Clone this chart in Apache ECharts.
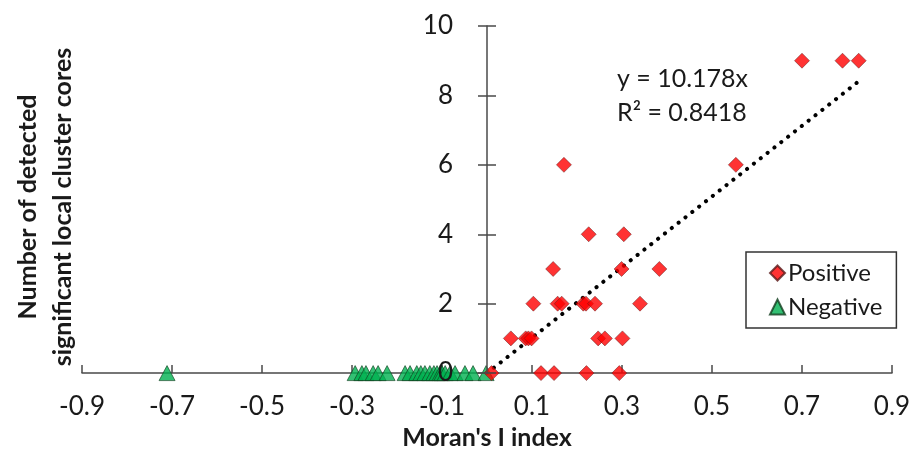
<!DOCTYPE html>
<html>
<head>
<meta charset="utf-8">
<script src="https://cdn.jsdelivr.net/npm/echarts@6/dist/echarts.min.js"></script>
<style>
  html, body { margin: 0; padding: 0; background: #fff; }
  #chart { width: 914px; height: 455px; }
</style>
</head>
<body>
<div id="chart"></div>
<script>
// Moran's I index (x) vs number of detected local cluster cores (y)
const positiveX = [0.700, 0.790, 0.826, 0.171, 0.553, 0.226, 0.304, 0.147, 0.299, 0.383,
  0.103, 0.157, 0.166, 0.214, 0.220, 0.240, 0.340,
  0.053, 0.086, 0.092, 0.099, 0.247, 0.262, 0.301,
  0.010, 0.120, 0.149, 0.221, 0.294];
const positiveY = [9, 9, 9, 6, 6, 4, 4, 3, 3, 3,
  2, 2, 2, 2, 2, 2, 2,
  1, 1, 1, 1, 1, 1, 1,
  0, 0, 0, 0, 0];
const negativeX = [-0.711, -0.293, -0.278, -0.269, -0.253, -0.242, -0.222, -0.182, -0.171,
  -0.156, -0.147, -0.138, -0.127, -0.118, -0.111, -0.104, -0.100, -0.093, -0.082,
  -0.071, -0.049, -0.031, -0.002];
const negativeY = negativeX.map(() => 0);

// Linear trend through the origin fitted to the positive group
const trendSlope = 10.178;
const trendR2 = 0.8418;
const xTicks = { min: -0.9, max: 0.9, interval: 0.2 };
const yTicks = { min: 0, max: 10, interval: 2 };

const FONT = 'Lato, "Open Sans", sans-serif';
const TEXT = '#1a1a1a';
const AXIS = '#4a4a4a';

const GRID = { left: 82, right: 22, top: 26, bottom: 79 };
const PLOT_W = 914 - GRID.left - GRID.right;

const pairs = (xs, ys) => xs.map((x, i) => [x, ys[i]]);
const trendEnd = Math.max(...positiveX);
const trendData = [[0, 0], [trendEnd, trendSlope * trendEnd]];

// The vertical axis sits at x = 0; shift it in from the left grid edge.
const yAxisShift = -PLOT_W * (0 - xTicks.min) / (xTicks.max - xTicks.min);

const chart = echarts.init(document.getElementById('chart'), null, { renderer: 'canvas' });

const yAxisBase = {
  type: 'value',
  position: 'left',
  offset: yAxisShift,
  min: yTicks.min, max: yTicks.max, interval: yTicks.interval,
  splitLine: { show: false },
  z: 3
};

chart.setOption({
  animation: false,
  backgroundColor: '#fff',
  grid: Object.assign({ containLabel: false }, GRID),
  xAxis: {
    type: 'value',
    min: xTicks.min, max: xTicks.max, interval: xTicks.interval,
    splitLine: { show: false },
    axisLine: { onZero: false, lineStyle: { color: AXIS, width: 1.5 } },
    axisTick: { inside: true, length: 8, lineStyle: { color: AXIS, width: 1.5 } },
    axisLabel: {
      margin: 21, color: TEXT, fontFamily: FONT, fontSize: 26,
      formatter: v => v.toFixed(1)
    },
    name: "Moran's I index",
    nameLocation: 'middle',
    nameGap: 48,
    nameTextStyle: { color: TEXT, fontFamily: FONT, fontSize: 25, fontWeight: 'bold' }
  },
  yAxis: [
    Object.assign({}, yAxisBase, {
      axisLine: { show: true, onZero: false, lineStyle: { color: AXIS, width: 1.5 } },
      axisTick: { inside: false, length: 9, lineStyle: { color: AXIS, width: 1.5 } },
      axisLabel: { margin: 34, color: TEXT, fontFamily: FONT, fontSize: 26 }
    }),
    Object.assign({}, yAxisBase, {
      axisLine: { show: false, onZero: false },
      axisTick: { inside: true, length: 9, lineStyle: { color: AXIS, width: 1.5 } },
      axisLabel: { show: false }
    })
  ],
  legend: {
    left: 746, top: 252,
    orient: 'vertical',
    itemGap: 10,
    itemWidth: 15, itemHeight: 15,
    padding: [9, 14, 9, 23],
    borderColor: '#333', borderWidth: 1.5,
    textStyle: { color: TEXT, fontFamily: FONT, fontSize: 24, padding: [0, 0, 0, -2] },
    data: [
      { name: 'Positive', icon: 'diamond' },
      { name: 'Negative', icon: 'triangle' }
    ]
  },
  graphic: [
    {
      type: 'text',
      x: 45, y: 207,
      rotation: Math.PI / 2,
      style: {
        text: 'Number of detected\nsignificant local cluster cores',
        fill: TEXT, font: 'bold 25px ' + FONT,
        align: 'center', verticalAlign: 'middle', lineHeight: 35
      }
    },
    {
      type: 'text',
      x: 617, y: 62,
      style: {
        text: 'y = ' + trendSlope.toFixed(3) + 'x\nR\u00B2 = ' + trendR2.toFixed(4),
        fill: TEXT, font: '25px ' + FONT, lineHeight: 34
      }
    }
  ],
  series: [
    {
      name: 'Trend',
      type: 'line',
      data: trendData,
      symbol: 'none',
      z: 1,
      lineStyle: { color: '#000', width: 4, type: [0.1, 8.6], cap: 'round' },
      silent: true
    },
    {
      name: 'Negative',
      type: 'scatter',
      data: pairs(negativeX, negativeY),
      symbol: 'triangle',
      symbolSize: [16, 15],
      itemStyle: { color: '#00B050', borderColor: '#123d1e', borderWidth: 0.8 },
      z: 2
    },
    {
      name: 'Positive',
      type: 'scatter',
      data: pairs(positiveX, positiveY),
      symbol: 'diamond',
      symbolSize: [15, 15],
      itemStyle: { color: '#FF0000', borderColor: '#5a1a1a', borderWidth: 0.6 },
      z: 2
    }
  ]
});
</script>
</body>
</html>
